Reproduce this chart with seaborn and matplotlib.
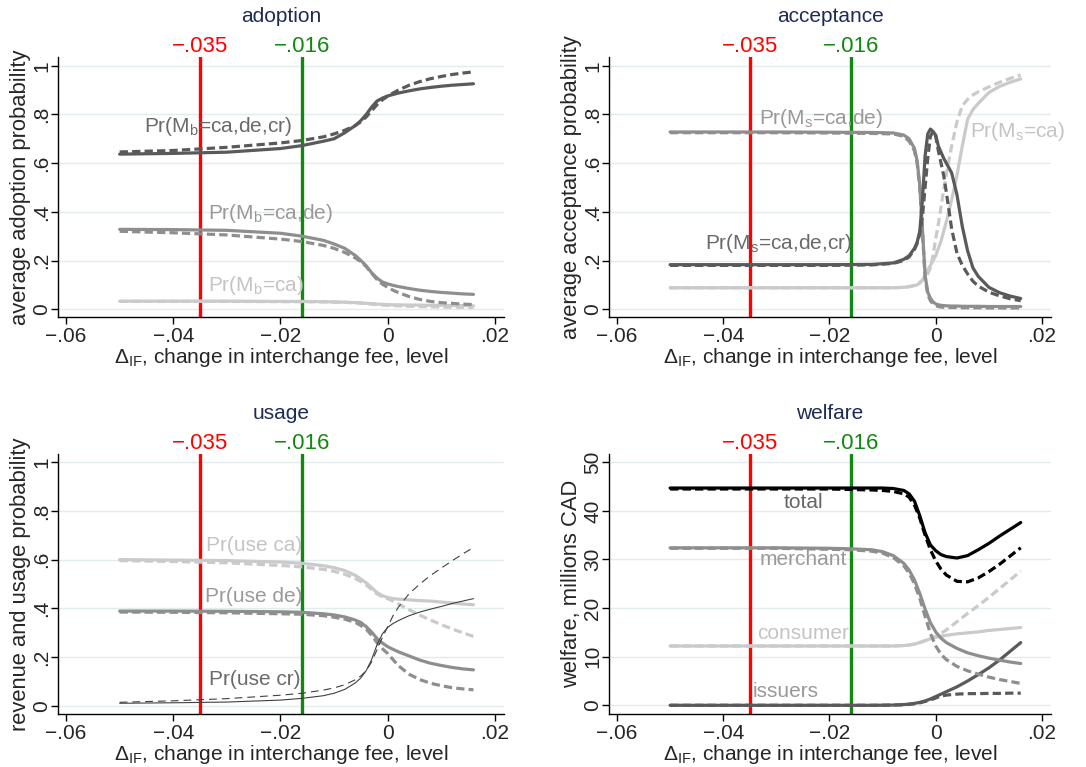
import numpy as np
import pandas as pd
import matplotlib
matplotlib.use("Agg")
import matplotlib.pyplot as plt
import seaborn as sns

# grid of fee changes (smooth panels) and a finer grid for the acceptance panel
fee = [-0.05, -0.04, -0.03, -0.02, -0.016, -0.012, -0.01, -0.008, -0.006, -0.005,
       -0.004, -0.003, -0.002, -0.001, 0.0, 0.001, 0.002, 0.004, 0.006, 0.008,
       0.01, 0.012, 0.014, 0.016]
fee_acc = [-0.05, -0.03, -0.02, -0.012, -0.008, -0.006, -0.005, -0.004, -0.0035, -0.003,
           -0.0025, -0.002, -0.0015, -0.001, -0.0005, 0.0, 0.0005, 0.001, 0.0015, 0.002,
           0.003, 0.004, 0.005, 0.006, 0.007, 0.008, 0.01, 0.012, 0.014, 0.016]

# adoption
adopt_all = [0.637, 0.640, 0.645, 0.660, 0.672, 0.690, 0.700, 0.725, 0.755, 0.775,
             0.800, 0.830, 0.855, 0.867, 0.876, 0.882, 0.888, 0.897, 0.905, 0.911,
             0.916, 0.920, 0.923, 0.926]
adopt_all_alt = [0.646, 0.652, 0.665, 0.683, 0.693, 0.708, 0.720, 0.735, 0.755, 0.770,
                 0.790, 0.815, 0.840, 0.860, 0.875, 0.888, 0.900, 0.920, 0.935, 0.947,
                 0.956, 0.964, 0.970, 0.975]
adopt_cade = [0.328, 0.327, 0.324, 0.312, 0.300, 0.283, 0.268, 0.250, 0.220, 0.200,
              0.178, 0.150, 0.128, 0.112, 0.104, 0.098, 0.093, 0.085, 0.078, 0.073,
              0.069, 0.066, 0.063, 0.061]
adopt_cade_alt = [0.320, 0.314, 0.305, 0.288, 0.278, 0.262, 0.250, 0.233, 0.210, 0.195,
                  0.175, 0.148, 0.122, 0.103, 0.090, 0.078, 0.068, 0.052, 0.040, 0.032,
                  0.027, 0.024, 0.021, 0.019]
adopt_ca = [0.033, 0.033, 0.033, 0.032, 0.032, 0.031, 0.030, 0.029, 0.027, 0.026,
            0.024, 0.023, 0.021, 0.020, 0.019, 0.018, 0.018, 0.017, 0.017, 0.016,
            0.016, 0.015, 0.015, 0.014]
adopt_ca_alt = [0.032, 0.032, 0.032, 0.031, 0.031, 0.030, 0.029, 0.028, 0.026, 0.025,
                0.023, 0.021, 0.019, 0.017, 0.016, 0.015, 0.014, 0.012, 0.011, 0.010,
                0.009, 0.008, 0.008, 0.007]

# acceptance
acc_cade = [0.728, 0.728, 0.727, 0.726, 0.724, 0.715, 0.700, 0.660, 0.610, 0.510,
            0.330, 0.140, 0.070, 0.045, 0.030, 0.022, 0.018, 0.016, 0.015, 0.014,
            0.013, 0.013, 0.012, 0.012, 0.012, 0.012, 0.011, 0.011, 0.011, 0.011]
acc_cade_alt = [0.725, 0.725, 0.724, 0.722, 0.720, 0.710, 0.690, 0.650, 0.600, 0.500,
                0.320, 0.130, 0.060, 0.035, 0.022, 0.015, 0.011, 0.009, 0.008, 0.008,
                0.007, 0.007, 0.006, 0.006, 0.006, 0.006, 0.005, 0.005, 0.005, 0.005]
acc_all = [0.183, 0.183, 0.183, 0.184, 0.190, 0.205, 0.220, 0.250, 0.275, 0.320,
           0.450, 0.630, 0.720, 0.740, 0.730, 0.715, 0.670, 0.645, 0.620, 0.600,
           0.560, 0.470, 0.340, 0.240, 0.170, 0.135, 0.090, 0.068, 0.054, 0.044]
acc_all_alt = [0.180, 0.180, 0.180, 0.182, 0.188, 0.200, 0.215, 0.245, 0.270, 0.310,
               0.380, 0.500, 0.620, 0.710, 0.730, 0.710, 0.650, 0.600, 0.550, 0.480,
               0.330, 0.230, 0.180, 0.145, 0.115, 0.095, 0.070, 0.055, 0.043, 0.035]
acc_ca = [0.088, 0.088, 0.088, 0.088, 0.088, 0.090, 0.092, 0.097, 0.100, 0.107,
          0.118, 0.140, 0.160, 0.180, 0.200, 0.220, 0.250, 0.280, 0.320, 0.360,
          0.450, 0.550, 0.670, 0.780, 0.820, 0.845, 0.890, 0.915, 0.932, 0.946]
acc_ca_alt = [0.088, 0.088, 0.088, 0.088, 0.088, 0.090, 0.093, 0.098, 0.102, 0.110,
              0.120, 0.130, 0.145, 0.170, 0.220, 0.290, 0.350, 0.420, 0.490, 0.555,
              0.670, 0.770, 0.835, 0.862, 0.880, 0.893, 0.913, 0.932, 0.948, 0.962]

# usage
use_ca = [0.600, 0.598, 0.596, 0.590, 0.585, 0.575, 0.567, 0.555, 0.535, 0.520,
          0.505, 0.485, 0.465, 0.452, 0.445, 0.440, 0.438, 0.435, 0.432, 0.430,
          0.426, 0.422, 0.418, 0.415]
use_ca_alt = [0.596, 0.592, 0.587, 0.576, 0.570, 0.560, 0.552, 0.540, 0.522, 0.510,
              0.496, 0.478, 0.460, 0.448, 0.440, 0.430, 0.418, 0.395, 0.372, 0.352,
              0.333, 0.316, 0.300, 0.285]
use_de = [0.389, 0.389, 0.388, 0.386, 0.384, 0.378, 0.373, 0.365, 0.352, 0.342,
          0.325, 0.303, 0.277, 0.258, 0.243, 0.232, 0.222, 0.205, 0.188, 0.175,
          0.166, 0.158, 0.152, 0.148]
use_de_alt = [0.385, 0.384, 0.382, 0.378, 0.376, 0.370, 0.364, 0.356, 0.342, 0.330,
              0.315, 0.290, 0.260, 0.235, 0.215, 0.190, 0.165, 0.130, 0.108, 0.093,
              0.083, 0.075, 0.070, 0.066]
use_cr = [0.011, 0.013, 0.016, 0.024, 0.031, 0.042, 0.052, 0.068, 0.095, 0.115,
          0.145, 0.190, 0.250, 0.295, 0.322, 0.338, 0.350, 0.370, 0.385, 0.397,
          0.408, 0.420, 0.430, 0.440]
use_cr_alt = [0.015, 0.021, 0.030, 0.044, 0.052, 0.065, 0.074, 0.087, 0.108, 0.123,
              0.145, 0.180, 0.230, 0.280, 0.325, 0.370, 0.405, 0.460, 0.500, 0.535,
              0.565, 0.595, 0.623, 0.650]

# welfare, millions CAD
w_total = [44.7, 44.7, 44.7, 44.7, 44.7, 44.7, 44.7, 44.6, 44.2, 43.5,
           42.0, 39.0, 35.5, 33.0, 31.8, 31.0, 30.6, 30.3, 30.8, 32.0,
           33.3, 34.8, 36.2, 37.6]
w_total_alt = [44.5, 44.5, 44.5, 44.5, 44.4, 44.3, 44.2, 44.0, 43.5, 42.8,
               41.2, 38.5, 35.0, 32.0, 29.7, 28.0, 26.8, 25.5, 25.4, 26.2,
               27.5, 29.0, 30.7, 32.4]
w_merchant = [32.4, 32.4, 32.4, 32.3, 32.2, 32.0, 31.6, 30.8, 29.2, 27.8,
              25.8, 23.0, 19.8, 17.0, 15.1, 13.8, 12.9, 11.7, 10.8, 10.2,
              9.7, 9.3, 8.9, 8.6]
w_merchant_alt = [32.3, 32.3, 32.3, 32.1, 32.0, 31.7, 31.3, 30.4, 28.7, 27.2,
                  25.0, 22.0, 18.3, 14.8, 12.2, 10.5, 9.4, 8.0, 7.1, 6.4,
                  5.8, 5.3, 4.9, 4.5]
w_consumer = [12.2, 12.2, 12.2, 12.2, 12.2, 12.2, 12.2, 12.2, 12.3, 12.4,
              12.6, 12.9, 13.3, 13.7, 14.0, 14.2, 14.4, 14.7, 14.9, 15.1,
              15.4, 15.6, 15.8, 16.0]
w_consumer_alt = [12.2, 12.2, 12.2, 12.2, 12.2, 12.2, 12.2, 12.2, 12.3, 12.4,
                  12.6, 12.9, 13.3, 13.7, 14.2, 14.8, 15.5, 17.2, 18.9, 20.5,
                  22.2, 24.0, 25.8, 27.6]
w_issuers = [0.0, 0.0, 0.0, 0.0, 0.0, 0.0, 0.02, 0.05, 0.15, 0.25,
             0.4, 0.6, 0.9, 1.3, 1.8, 2.3, 2.8, 3.8, 5.0, 6.3,
             7.7, 9.3, 11.1, 12.9]
w_issuers_alt = [0.0, 0.0, 0.0, 0.0, 0.0, 0.0, 0.02, 0.05, 0.1, 0.2,
                 0.3, 0.5, 0.8, 1.1, 1.5, 1.9, 2.1, 2.3, 2.4, 2.4,
                 2.45, 2.45, 2.5, 2.5]

# reference fee changes marked in every panel
ref_fees = [-0.035, -0.016]
ref_labels = ["\u2212.035", "\u2212.016"]

x_ticks = [-0.06, -0.04, -0.02, 0.0, 0.02]
x_ticklabels = ["\u2212.06", "\u2212.04", "\u2212.02", "0", ".02"]
p_ticks = [0, 0.2, 0.4, 0.6, 0.8, 1.0]
p_ticklabels = ["0", ".2", ".4", ".6", ".8", "1"]
w_ticks = [0, 10, 20, 30, 40, 50]
w_ticklabels = ["0", "10", "20", "30", "40", "50"]

sns.set_style("ticks")
plt.rcParams["font.family"] = ["Liberation Sans", "DejaVu Sans"]
plt.rcParams["mathtext.default"] = "regular"

DARK = "#5a5a5a"
MID = "#8e8e8e"
LIGHT = "#cacaca"
TITLE_C = "#1e2b55"
RED = "#ff0000"
GREEN = "#118811"
FS = 15

fig = plt.figure(figsize=(10.86, 7.67), dpi=100)
W, H = 1086, 767


def make_ax(left, top, right, bottom):
    return fig.add_axes([left / W, 1 - bottom / H, (right - left) / W, (bottom - top) / H])


def curve(ax, x, y, color, lw=2.3, dashed=False, thin=False):
    if dashed:
        ls = (0, (7, 4.5)) if thin else (0, (2.6, 1.3))
    else:
        ls = "-"
    sns.lineplot(x=x, y=y, ax=ax, color=color, lw=lw, linestyle=ls,
                 errorbar=None, sort=True, zorder=3)


def style_ax(ax, title, ylabel, ylim, yticks, yticklabels):
    ax.set_xlim(-0.0615, 0.0217)
    ax.set_ylim(*ylim)
    ax.set_xticks(x_ticks)
    ax.set_xticklabels(x_ticklabels, fontsize=FS)
    ax.set_yticks(yticks)
    ax.set_yticklabels(yticklabels, fontsize=FS, rotation=90, va="center")
    for t in yticks:
        ax.axhline(t, color="#e2ecef", lw=1.0, zorder=0)
    sns.despine(ax=ax)
    for s in ("left", "bottom"):
        ax.spines[s].set_linewidth(1.0)
        ax.spines[s].set_color("black")
    ax.tick_params(axis="x", length=5, width=1, pad=2, color="black")
    ax.tick_params(axis="y", length=5, width=1, pad=0, color="black")
    ax.set_xlabel("\u0394$_{IF}$, change in interchange fee, level", fontsize=FS, labelpad=0)
    ax.set_ylabel(ylabel, fontsize=15.8, labelpad=1)
    ax.text(0.5, 1.155, title, transform=ax.transAxes, ha="center", va="center",
            fontsize=FS, color=TITLE_C)
    for xv, lab, c in zip(ref_fees, ref_labels, [RED, GREEN]):
        ax.axvline(xv, color=c, lw=2.4, zorder=2)
        ax.annotate(lab, xy=(xv, 1.0), xycoords=("data", "axes fraction"),
                    xytext=(0, 0), textcoords="offset points", ha="center",
                    va="bottom", fontsize=16, color=c)


def label(ax, x, y, s, color):
    ax.text(x, y, s, fontsize=FS, color=color, ha="left", va="center", zorder=5)


# adoption
ax1 = make_ax(58, 57, 504, 317)
curve(ax1, fee, adopt_ca_alt, LIGHT, dashed=True)
curve(ax1, fee, adopt_ca, LIGHT)
curve(ax1, fee, adopt_cade_alt, MID, dashed=True)
curve(ax1, fee, adopt_cade, MID)
curve(ax1, fee, adopt_all_alt, DARK, dashed=True)
curve(ax1, fee, adopt_all, DARK)
style_ax(ax1, "adoption", "average adoption probability", (-0.032, 1.036), p_ticks, p_ticklabels)
label(ax1, -0.0455, 0.75, "Pr(M$_b$=ca,de,cr)", "#6a6a6a")
label(ax1, -0.0336, 0.395, "Pr(M$_b$=ca,de)", "#999999")
label(ax1, -0.0336, 0.096, "Pr(M$_b$=ca)", "#c4c4c4")

# acceptance
ax2 = make_ax(609, 57, 1051, 317)
curve(ax2, fee_acc, acc_ca_alt, LIGHT, dashed=True)
curve(ax2, fee_acc, acc_ca, LIGHT)
curve(ax2, fee_acc, acc_cade_alt, MID, dashed=True)
curve(ax2, fee_acc, acc_cade, MID)
curve(ax2, fee_acc, acc_all_alt, DARK, dashed=True)
curve(ax2, fee_acc, acc_all, DARK)
style_ax(ax2, "acceptance", "average acceptance probability", (-0.032, 1.036), p_ticks, p_ticklabels)
label(ax2, -0.0333, 0.785, "Pr(M$_s$=ca,de)", "#999999")
label(ax2, -0.0435, 0.268, "Pr(M$_s$=ca,de,cr)", "#6a6a6a")
label(ax2, 0.0065, 0.729, "Pr(M$_s$=ca)", "#c4c4c4")

# usage
ax3 = make_ax(58, 454, 504, 714)
curve(ax3, fee, use_ca_alt, LIGHT, dashed=True)
curve(ax3, fee, use_ca, LIGHT)
curve(ax3, fee, use_de_alt, MID, dashed=True)
curve(ax3, fee, use_de, MID)
curve(ax3, fee, use_cr_alt, "#404040", lw=0.8, dashed=True, thin=True)
curve(ax3, fee, use_cr, "#404040", lw=0.8)
style_ax(ax3, "usage", "revenue and usage probability", (-0.033, 1.033), p_ticks, p_ticklabels)
label(ax3, -0.0339, 0.657, "Pr(use ca)", "#c4c4c4")
label(ax3, -0.0341, 0.448, "Pr(use de)", "#999999")
label(ax3, -0.0334, 0.107, "Pr(use cr)", "#6a6a6a")

# welfare
ax4 = make_ax(609, 454, 1051, 714)
curve(ax4, fee, w_issuers_alt, DARK, dashed=True)
curve(ax4, fee, w_issuers, DARK)
curve(ax4, fee, w_consumer_alt, LIGHT, dashed=True)
curve(ax4, fee, w_consumer, LIGHT)
curve(ax4, fee, w_merchant_alt, MID, dashed=True)
curve(ax4, fee, w_merchant, MID)
curve(ax4, fee, w_total_alt, "black", dashed=True)
curve(ax4, fee, w_total, "black")
style_ax(ax4, "welfare", "welfare, millions CAD", (-1.79, 51.7), w_ticks, w_ticklabels)
label(ax4, -0.0287, 41.8, "total", "#666666")
label(ax4, -0.0332, 29.9, "merchant", "#999999")
label(ax4, -0.0336, 14.8, "consumer", "#c4c4c4")
label(ax4, -0.0344, 2.8, "issuers", "#999999")

fig.savefig("out.png", dpi=100)
